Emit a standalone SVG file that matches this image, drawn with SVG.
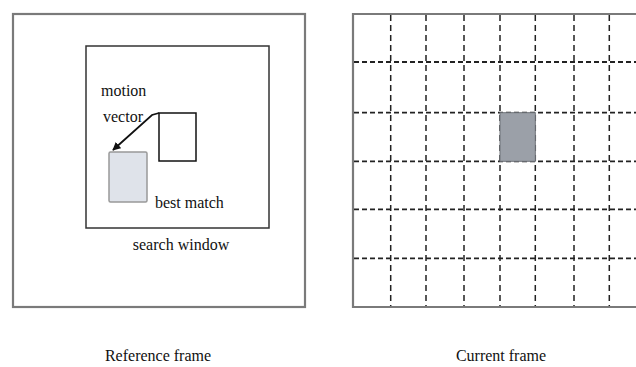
<svg xmlns="http://www.w3.org/2000/svg" width="636" height="367" viewBox="0 0 636 367">
<style>
  text { font-family: "Liberation Serif", "Times New Roman", serif; font-size: 16px; fill: #111; }
  .frame { fill: none; stroke: #7a7a7a; stroke-width: 2.2; }
  .win { fill: none; stroke: #333; stroke-width: 1.5; }
  .blk { fill: #fff; stroke: #111; stroke-width: 1.5; }
  .match { fill: #dfe3ea; stroke: #999; stroke-width: 1.5; }
  .hd { stroke: #222; stroke-width: 1.8; stroke-dasharray: 5 3; }
  .vd { stroke: #222; stroke-width: 1.5; stroke-dasharray: 6 4; }
  .cell { fill: #9ba0a8; stroke: #6e7278; stroke-width: 1; }
</style>
<defs>
  <marker id="ah" viewBox="0 0 10 10" refX="9" refY="5" markerWidth="4.5" markerHeight="4.5" orient="auto">
    <path d="M0,0 L10,5 L0,10 z" fill="#111"/>
  </marker>
</defs>
<rect width="636" height="367" fill="#fff"/>

<g id="reference-frame">
  <rect class="frame" x="13" y="14" width="292" height="293"/>
  <text x="158" y="361" text-anchor="middle">Reference frame</text>
</g>
<g id="search-window">
  <rect class="win" x="86" y="46" width="183" height="182"/>
  <text x="181" y="250" text-anchor="middle">search window</text>
</g>
<g id="block">
  <rect class="blk" x="159" y="113" width="37" height="48"/>
</g>
<g id="best-match">
  <rect class="match" x="109" y="152" width="38" height="50" rx="1.5"/>
  <text x="155" y="208">best match</text>
</g>
<g id="motion-vector-label">
  <text x="101" y="96">motion</text>
  <text x="103" y="122">vector</text>
</g>

<g id="current-frame">
  <path class="frame" d="M640,14 H353 V307 H640"/>
  <g id="grid-h">
    <line class="hd" x1="354" y1="62" x2="636" y2="62"/>
    <line class="hd" x1="354" y1="112.7" x2="636" y2="112.7"/>
    <line class="hd" x1="354" y1="161.3" x2="636" y2="161.3"/>
    <line class="hd" x1="354" y1="209.3" x2="636" y2="209.3"/>
    <line class="hd" x1="354" y1="258.3" x2="636" y2="258.3"/>
  </g>
  <g id="grid-v">
    <line class="vd" x1="390.7" y1="15" x2="390.7" y2="306"/>
    <line class="vd" x1="426" y1="15" x2="426" y2="306"/>
    <line class="vd" x1="464" y1="15" x2="464" y2="306"/>
    <line class="vd" x1="500" y1="15" x2="500" y2="306"/>
    <line class="vd" x1="535.3" y1="15" x2="535.3" y2="306"/>
    <line class="vd" x1="574" y1="15" x2="574" y2="306"/>
    <line class="vd" x1="609.3" y1="15" x2="609.3" y2="306"/>
  </g>
  <rect id="current-block" class="cell" x="500" y="112.7" width="35.3" height="48.6"/>
  <text x="501" y="361" text-anchor="middle">Current frame</text>
</g>

<g id="connectors">
  <path d="M159,113 L152,115 L113,150" fill="none" stroke="#111" stroke-width="1.8" marker-end="url(#ah)"/>
</g>
</svg>
